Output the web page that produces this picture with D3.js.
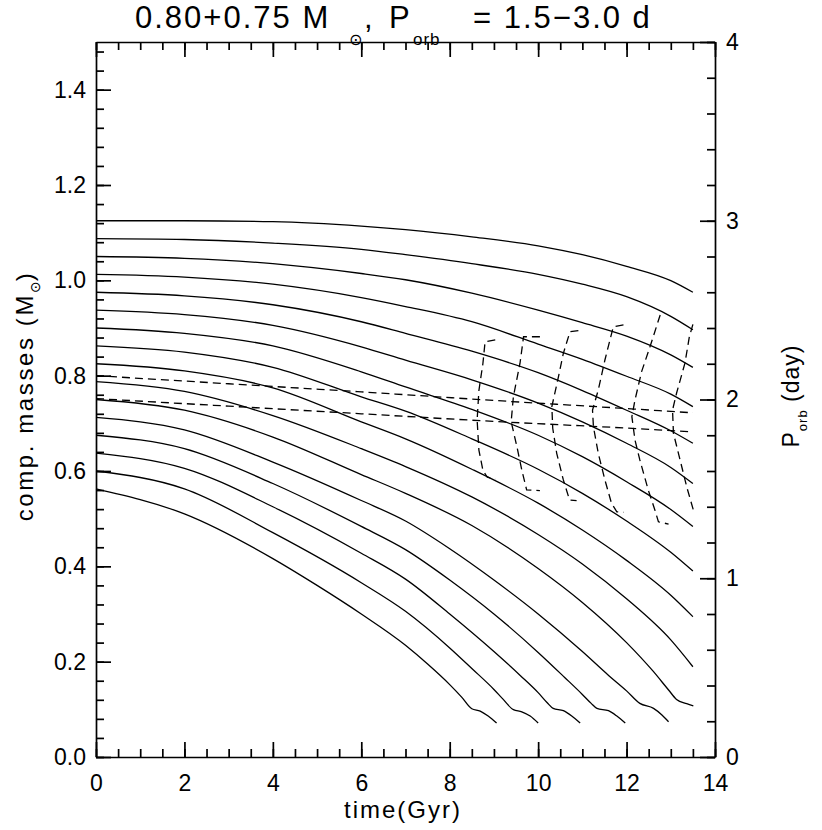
<!DOCTYPE html>
<html>
<head>
<meta charset="utf-8">
<script src="https://cdn.jsdelivr.net/npm/d3@7"></script>
<style>
  body { margin: 0; background: #fff; }
  text { font-family: "Liberation Sans", "DejaVu Sans", sans-serif; fill: #000; }
</style>
</head>
<body>
<script>
// Orbital period tracks (time in Gyr, period in days)
const timeLong = [0, 2, 4, 6, 7, 8.5, 10, 11, 12, 13, 13.5];
const porb30 = [3.00, 3.00, 2.995, 2.97, 2.95, 2.91, 2.86, 2.81, 2.745, 2.665, 2.60];
const porb29 = [2.90, 2.895, 2.875, 2.84, 2.81, 2.76, 2.70, 2.645, 2.575, 2.465, 2.39];
const porb28 = [2.80, 2.79, 2.76, 2.705, 2.67, 2.595, 2.50, 2.43, 2.355, 2.25, 2.18];
const porb27 = [2.70, 2.685, 2.645, 2.57, 2.52, 2.435, 2.31, 2.225, 2.13, 2.03, 1.96];
const porb26 = [2.60, 2.58, 2.53, 2.435, 2.37, 2.27, 2.15, 2.05, 1.94, 1.825, 1.755];
const porb25 = [2.50, 2.475, 2.415, 2.295, 2.22, 2.11, 1.98, 1.875, 1.755, 1.62, 1.53];
const porb24 = [2.40, 2.37, 2.30, 2.155, 2.07, 1.945, 1.80, 1.68, 1.54, 1.385, 1.29];
const porb23 = [2.30, 2.265, 2.18, 2.015, 1.935, 1.78, 1.61, 1.475, 1.32, 1.145, 1.04];
const porb22 = [2.20, 2.16, 2.065, 1.875, 1.78, 1.61, 1.42, 1.27, 1.10, 0.905, 0.785];
const porb21 = [2.10, 2.045, 1.91, 1.725, 1.625, 1.455, 1.245, 1.08, 0.885, 0.655, 0.505];

const time20 = [0, 2, 4, 6, 7, 8.5, 10, 11, 12, 12.6, 12.95, 13.13, 13.36, 13.51];
const porb20 = [2.00, 1.94, 1.79, 1.58, 1.475, 1.295, 1.055, 0.865, 0.64, 0.48, 0.375, 0.322, 0.298, 0.286];
const time19 = [0, 2, 4, 6, 7, 8, 9, 10, 11, 11.6, 12.0, 12.3, 12.61, 12.8, 12.95];
const porb19 = [1.90, 1.83, 1.65, 1.435, 1.32, 1.165, 0.99, 0.80, 0.59, 0.455, 0.37, 0.30, 0.272, 0.235, 0.197];
const time18 = [0, 2, 4, 6, 7, 8, 9, 10, 10.6, 11.0, 11.2, 11.33, 11.59, 11.78, 11.97];
const porb18 = [1.80, 1.725, 1.53, 1.29, 1.16, 0.99, 0.80, 0.585, 0.445, 0.35, 0.30, 0.272, 0.259, 0.229, 0.19];
const time17 = [0, 2, 4, 6, 7, 8, 9, 9.6, 10.0, 10.2, 10.34, 10.57, 10.76, 10.95];
const porb17 = [1.70, 1.615, 1.40, 1.14, 0.995, 0.80, 0.59, 0.455, 0.36, 0.305, 0.272, 0.259, 0.229, 0.19];
const time16 = [0, 2, 4, 6, 7, 8, 8.5, 9, 9.2, 9.44, 9.63, 9.82, 10.0];
const porb16 = [1.60, 1.50, 1.255, 0.975, 0.815, 0.61, 0.495, 0.378, 0.325, 0.265, 0.253, 0.229, 0.19];
const time15 = [0, 2, 4, 5, 6, 7, 7.5, 8, 8.27, 8.5, 8.69, 8.87, 9.06];
const porb15 = [1.50, 1.36, 1.11, 0.96, 0.80, 0.625, 0.52, 0.405, 0.335, 0.27, 0.257, 0.229, 0.19];

// Component masses (left axis, solar masses)
const timeMass = [0, 3, 6, 9, 12, 13.5];
const massPrimary = [0.800, 0.783, 0.766, 0.748, 0.731, 0.722];
const massSecondary = [0.752, 0.736, 0.720, 0.704, 0.690, 0.682];

// Dashed cross curves (time, period)
const crossA_t = [9.03, 8.80, 8.75, 8.66, 8.62, 8.66, 8.75, 8.85, 9.03];
const crossA_p = [2.333, 2.323, 2.20, 2.05, 1.885, 1.717, 1.605, 1.565, 1.555];
const crossB_t = [10.04, 9.67, 9.59, 9.44, 9.39, 9.52, 9.63, 9.74, 10.04];
const crossB_p = [2.351, 2.351, 2.203, 2.016, 1.876, 1.736, 1.606, 1.494, 1.49];
const crossC_t = [10.91, 10.72, 10.57, 10.46, 10.31, 10.33, 10.42, 10.57, 10.71, 10.87];
const crossC_p = [2.385, 2.379, 2.258, 2.128, 1.96, 1.839, 1.699, 1.55, 1.438, 1.434];
const crossD_t = [11.93, 11.70, 11.51, 11.36, 11.23, 11.25, 11.36, 11.51, 11.66, 11.78, 11.93];
const crossD_p = [2.417, 2.407, 2.221, 2.053, 1.941, 1.848, 1.699, 1.55, 1.419, 1.372, 1.369];
const crossE_t = [12.76, 12.53, 12.34, 12.19, 12.12, 12.19, 12.30, 12.49, 12.64, 12.72, 12.95];
const crossE_p = [2.473, 2.295, 2.156, 1.997, 1.904, 1.773, 1.662, 1.494, 1.382, 1.316, 1.303];
const crossF_t = [13.50, 13.42, 13.32, 13.13, 13.04, 13.06, 13.21, 13.36, 13.51];
const crossF_p = [2.42, 2.351, 2.203, 2.035, 1.941, 1.811, 1.662, 1.512, 1.382];

// Tick values
const xMajor = [0, 2, 4, 6, 8, 10, 12, 14];
const xMinor = d3.range(0, 14.01, 0.5);
const massMajor = [0, 0.2, 0.4, 0.6, 0.8, 1.0, 1.2, 1.4];
const massMinor = d3.range(0, 1.5, 0.04);
const porbMajor = [0, 1, 2, 3, 4];
const porbMinor = d3.range(0, 4.01, 0.2);

const width = 822;
const height = 830;
const plotLeft = 96, plotRight = 715, plotTop = 42, plotBottom = 757;

const svg = d3.select("body").append("svg").attr("width", width).attr("height", height);

const x = d3.scaleLinear().domain([0, 14]).range([plotLeft, plotRight]);
const yMass = d3.scaleLinear().domain([0, 1.5]).range([plotBottom, plotTop]);
const yPorb = d3.scaleLinear().domain([0, 4]).range([plotBottom, plotTop]);

const zip = (ts, vs) => ts.map((t, i) => [t, vs[i]]);

const tracks = [
  zip(timeLong, porb30), zip(timeLong, porb29), zip(timeLong, porb28), zip(timeLong, porb27),
  zip(timeLong, porb26), zip(timeLong, porb25), zip(timeLong, porb24), zip(timeLong, porb23),
  zip(timeLong, porb22), zip(timeLong, porb21), zip(time20, porb20), zip(time19, porb19),
  zip(time18, porb18), zip(time17, porb17), zip(time16, porb16), zip(time15, porb15)
];

const crosses = [
  zip(crossA_t, crossA_p), zip(crossB_t, crossB_p), zip(crossC_t, crossC_p),
  zip(crossD_t, crossD_p), zip(crossE_t, crossE_p), zip(crossF_t, crossF_p)
];

const masses = [zip(timeMass, massPrimary), zip(timeMass, massSecondary)];

const trackLine = d3.line().x((d) => x(d[0])).y((d) => yPorb(d[1])).curve(d3.curveMonotoneX);
const crossLine = d3.line().x((d) => x(d[0])).y((d) => yPorb(d[1]));
const massLine = d3.line().x((d) => x(d[0])).y((d) => yMass(d[1])).curve(d3.curveMonotoneX);

// period tracks
svg.append("g")
  .selectAll("path")
  .data(tracks)
  .join("path")
  .attr("d", trackLine)
  .attr("fill", "none")
  .attr("stroke", "#000")
  .attr("stroke-width", 1.3);

// mass lines
svg.append("g")
  .selectAll("path")
  .data(masses)
  .join("path")
  .attr("d", massLine)
  .attr("fill", "none")
  .attr("stroke", "#000")
  .attr("stroke-width", 1.3)
  .attr("stroke-dasharray", "8,5");

// dashed cross curves
svg.append("g")
  .selectAll("path")
  .data(crosses)
  .join("path")
  .attr("d", crossLine)
  .attr("fill", "none")
  .attr("stroke", "#000")
  .attr("stroke-width", 1.3)
  .attr("stroke-dasharray", "8,5");

// axes, ticks pointing inward
function styleAxis(g) {
  g.selectAll("path, line").attr("stroke", "#000").attr("stroke-width", 1.7);
  g.selectAll("text").attr("font-family", "Liberation Sans, DejaVu Sans, sans-serif").attr("font-size", 23).attr("fill", "#000");
}

svg.append("g").attr("transform", `translate(0,${plotBottom})`)
  .call(d3.axisBottom(x).tickValues(xMajor).tickSize(-15).tickSizeOuter(0).tickPadding(18).tickFormat(d3.format("d")))
  .call(styleAxis);
svg.append("g").attr("transform", `translate(0,${plotBottom})`)
  .call(d3.axisBottom(x).tickValues(xMinor).tickSize(-8).tickFormat(""))
  .call((g) => g.select(".domain").remove())
  .call(styleAxis);

svg.append("g").attr("transform", `translate(0,${plotTop})`)
  .call(d3.axisTop(x).tickValues(xMajor).tickSize(-15).tickSizeOuter(0).tickFormat(""))
  .call(styleAxis);
svg.append("g").attr("transform", `translate(0,${plotTop})`)
  .call(d3.axisTop(x).tickValues(xMinor).tickSize(-8).tickFormat(""))
  .call((g) => g.select(".domain").remove())
  .call(styleAxis);

svg.append("g").attr("transform", `translate(${plotLeft},0)`)
  .call(d3.axisLeft(yMass).tickValues(massMajor).tickSize(-15).tickSizeOuter(0).tickPadding(10).tickFormat(d3.format(".1f")))
  .call(styleAxis);
svg.append("g").attr("transform", `translate(${plotLeft},0)`)
  .call(d3.axisLeft(yMass).tickValues(massMinor).tickSize(-8).tickFormat(""))
  .call((g) => g.select(".domain").remove())
  .call(styleAxis);

svg.append("g").attr("transform", `translate(${plotRight},0)`)
  .call(d3.axisRight(yPorb).tickValues(porbMajor).tickSize(-15).tickSizeOuter(0).tickPadding(11).tickFormat(d3.format("d")))
  .call(styleAxis);
svg.append("g").attr("transform", `translate(${plotRight},0)`)
  .call(d3.axisRight(yPorb).tickValues(porbMinor).tickSize(-8).tickFormat(""))
  .call((g) => g.select(".domain").remove())
  .call(styleAxis);

// title, pieces placed as in the original
const title = svg.append("text")
  .attr("y", 28)
  .attr("font-size", 31)
  .attr("letter-spacing", 2);
title.append("tspan").attr("x", 135).text("0.80+0.75 M");
title.append("tspan").attr("x", 349).attr("y", 45).attr("font-size", 16).attr("letter-spacing", 0).text("⊙");
title.append("tspan").attr("x", 364).attr("y", 28).text(",");
title.append("tspan").attr("x", 389).text("P");
title.append("tspan").attr("x", 413).attr("y", 45).attr("font-size", 17).attr("letter-spacing", 1).text("orb");
title.append("tspan").attr("x", 473).attr("y", 28).text("= 1.5−3.0 d");

// x axis title
svg.append("text")
  .attr("x", 403)
  .attr("y", 818)
  .attr("text-anchor", "middle")
  .attr("font-size", 24)
  .attr("letter-spacing", 2)
  .text("time(Gyr)");

// left axis title
const yTitle = svg.append("text")
  .attr("transform", "translate(33,396) rotate(-90)")
  .attr("text-anchor", "middle")
  .attr("font-size", 24)
  .attr("letter-spacing", 2.6);
yTitle.append("tspan").text("comp. masses (M");
yTitle.append("tspan").attr("font-size", 14).attr("dy", 7).attr("letter-spacing", 0).text("⊙");
yTitle.append("tspan").attr("dy", -7).text(")");

// right axis title
const pTitle = svg.append("text")
  .attr("transform", "translate(799,396) rotate(-90)")
  .attr("text-anchor", "middle")
  .attr("font-size", 23)
  .attr("letter-spacing", 1);
pTitle.append("tspan").text("P");
pTitle.append("tspan").attr("font-size", 13).attr("dy", 8).text("orb");
pTitle.append("tspan").attr("dy", -8).text(" (day)");
</script>
</body>
</html>
